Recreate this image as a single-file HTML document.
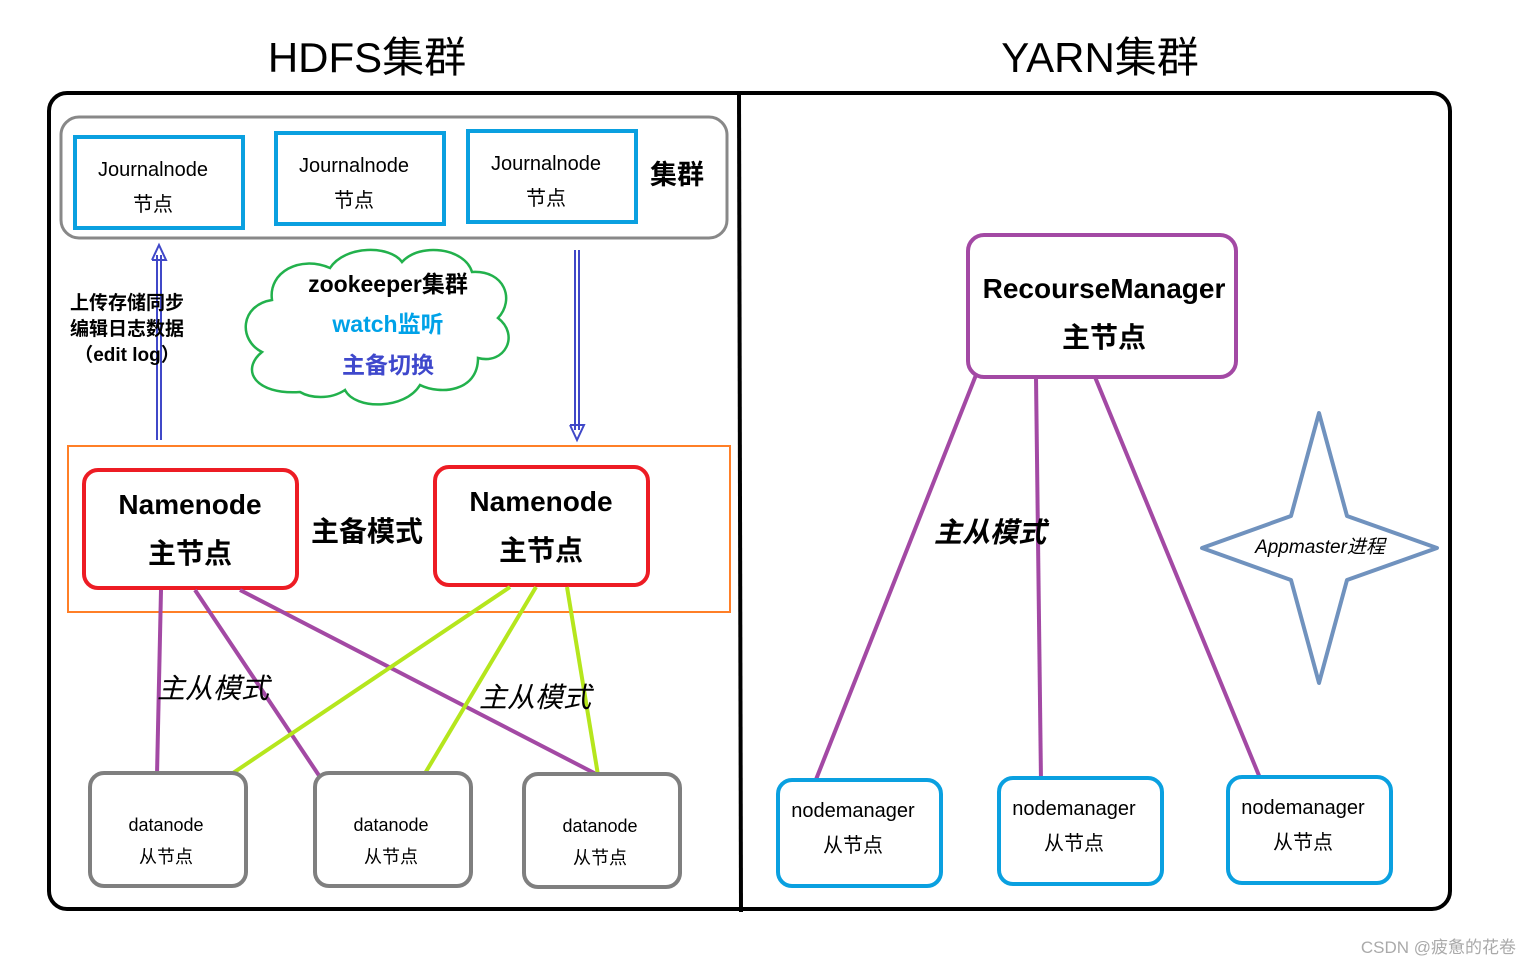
<!DOCTYPE html>
<html><head><meta charset="utf-8"><style>
html,body{margin:0;padding:0;background:#fff;}
svg{display:block;}
text{font-family:"Liberation Sans","Noto Sans CJK SC",sans-serif;}
</style></head><body>
<svg width="1532" height="966" viewBox="0 0 1532 966" xmlns="http://www.w3.org/2000/svg">
<text x="367" y="72" font-size="42" text-anchor="middle" fill="#000">HDFS集群</text>
<text x="1100" y="72" font-size="42" text-anchor="middle" fill="#000">YARN集群</text>
<rect x="49" y="93" width="1401" height="816" rx="18" fill="none" stroke="#000" stroke-width="4"/>
<line x1="739" y1="93" x2="741" y2="912" stroke="#000" stroke-width="4"/>
<!-- journal cluster -->
<rect x="61" y="117" width="666" height="121" rx="18" fill="none" stroke="#888" stroke-width="3"/>
<g fill="none" stroke="#0aa0e0" stroke-width="4">
<rect x="75" y="137" width="168" height="91"/>
<rect x="276" y="133" width="168" height="91"/>
<rect x="468" y="131" width="168" height="91"/>
</g>
<g font-size="20" text-anchor="middle" fill="#000">
<text x="153" y="176">Journalnode</text><text x="153" y="211">节点</text>
<text x="354" y="172">Journalnode</text><text x="354" y="207">节点</text>
<text x="546" y="170">Journalnode</text><text x="546" y="205">节点</text>
</g>
<text x="677" y="184" font-size="27" font-weight="bold" text-anchor="middle">集群</text>
<!-- arrows -->
<g stroke="#4048c8" stroke-width="2" fill="none">
<line x1="157" y1="255" x2="157" y2="440"/><line x1="161" y1="255" x2="161" y2="440"/>
<polyline points="152,260 159,245 166,260 152,260"/>
<line x1="575" y1="250" x2="575" y2="430"/><line x1="579" y1="250" x2="579" y2="430"/>
<polyline points="570,425 577,440 584,425 570,425"/>
</g>
<g font-size="19" font-weight="bold" text-anchor="middle">
<text x="127" y="309">上传存储同步</text><text x="127" y="335">编辑日志数据</text><text x="127" y="361">（edit log）</text>
</g>
<!-- cloud -->
<path d="M300,392 C255,395 240,370 262,352 C238,340 240,305 272,300 C268,272 300,255 330,268 C345,245 390,245 402,262 C420,242 465,248 472,272 C505,270 515,300 498,318 C520,335 505,365 478,358 C478,392 440,395 420,385 C405,410 355,410 345,390 C330,400 310,398 300,392 Z" fill="#fff" stroke="#22b14c" stroke-width="2.5"/>
<text x="388" y="292" font-size="23" font-weight="bold" text-anchor="middle">zookeeper集群</text>
<text x="388" y="332" font-size="23" font-weight="bold" text-anchor="middle" fill="#00a2e8">watch监听</text>
<text x="388" y="373" font-size="23" font-weight="bold" text-anchor="middle" fill="#3f48cc">主备切换</text>
<!-- orange -->
<rect x="68" y="446" width="662" height="166" fill="none" stroke="#ff7f27" stroke-width="2"/>
<rect x="84" y="470" width="213" height="118" rx="14" fill="#fff" stroke="#ed1c24" stroke-width="4"/>
<rect x="435" y="467" width="213" height="118" rx="14" fill="#fff" stroke="#ed1c24" stroke-width="4"/>
<g font-size="28" font-weight="bold" text-anchor="middle">
<text x="190" y="514">Namenode</text><text x="190" y="563">主节点</text>
<text x="541" y="511">Namenode</text><text x="541" y="560">主节点</text>
<text x="367" y="541">主备模式</text>
</g>
<!-- lines -->
<g stroke="#a349a4" stroke-width="4">
<line x1="161" y1="590" x2="157" y2="775"/>
<line x1="195" y1="590" x2="320" y2="777"/>
<line x1="240" y1="590" x2="598" y2="775"/>
</g>
<g stroke="#b5e61d" stroke-width="4">
<line x1="510" y1="587" x2="230" y2="775"/>
<line x1="536" y1="587" x2="424" y2="775"/>
<line x1="567" y1="587" x2="598" y2="775"/>
</g>
<text x="213" y="698" font-size="28" font-style="italic" text-anchor="middle">主从模式</text>
<text x="535" y="707" font-size="28" font-style="italic" text-anchor="middle">主从模式</text>
<g fill="#fff" stroke="#7f7f7f" stroke-width="4">
<rect x="90" y="773" width="156" height="113" rx="14"/>
<rect x="315" y="773" width="156" height="113" rx="14"/>
<rect x="524" y="774" width="156" height="113" rx="14"/>
</g>
<g font-size="18" text-anchor="middle">
<text x="166" y="831">datanode</text><text x="166" y="863">从节点</text>
<text x="391" y="831">datanode</text><text x="391" y="863">从节点</text>
<text x="600" y="832">datanode</text><text x="600" y="864">从节点</text>
</g>
<!-- YARN -->
<g stroke="#a349a4" stroke-width="4">
<line x1="976" y1="375" x2="815" y2="782"/>
<line x1="1036" y1="377" x2="1041" y2="782"/>
<line x1="1095" y1="377" x2="1260" y2="778"/>
</g>
<rect x="968" y="235" width="268" height="142" rx="16" fill="#fff" stroke="#a349a4" stroke-width="4"/>
<text x="1104" y="298" font-size="28" font-weight="bold" text-anchor="middle">RecourseManager</text>
<text x="1104" y="347" font-size="28" font-weight="bold" text-anchor="middle">主节点</text>
<text x="990" y="542" font-size="28" font-weight="bold" font-style="italic" text-anchor="middle">主从模式</text>
<polygon points="1319,413 1347,516 1437,548 1347,580 1319,683 1291,580 1202,548 1291,516" fill="#fff" stroke="#7092be" stroke-width="4" stroke-linejoin="round"/>
<text x="1320" y="553" font-size="19" font-style="italic" text-anchor="middle">Appmaster进程</text>
<g fill="#fff" stroke="#0aa0e0" stroke-width="4">
<rect x="778" y="780" width="163" height="106" rx="14"/>
<rect x="999" y="778" width="163" height="106" rx="14"/>
<rect x="1228" y="777" width="163" height="106" rx="14"/>
</g>
<g font-size="20" text-anchor="middle">
<text x="853" y="817">nodemanager</text><text x="853" y="852">从节点</text>
<text x="1074" y="815">nodemanager</text><text x="1074" y="850">从节点</text>
<text x="1303" y="814">nodemanager</text><text x="1303" y="849">从节点</text>
</g>
<text x="1516" y="953" font-size="17" fill="#aaa" text-anchor="end">CSDN @疲惫的花卷</text>
</svg>
</body></html>
